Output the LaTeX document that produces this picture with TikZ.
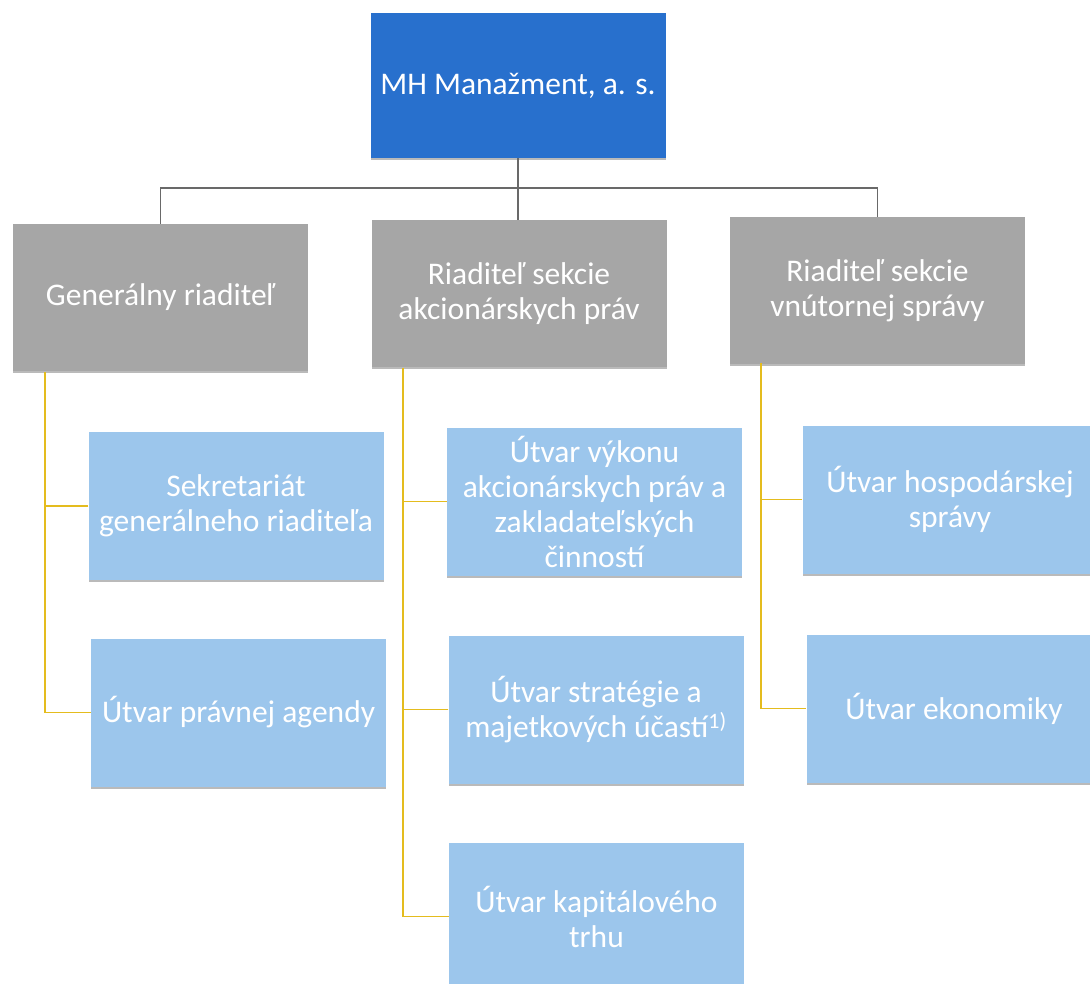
\documentclass[tikz,border=0pt]{standalone}
\usepackage{fontspec}
\setmainfont{Carlito}
\usetikzlibrary{shadows}
\definecolor{topblue}{RGB}{40,112,205}
\definecolor{boxgray}{RGB}{166,166,166}
\definecolor{lightblue}{RGB}{156,198,236}
\definecolor{linegray}{RGB}{105,105,105}
\definecolor{lineyellow}{RGB}{228,188,30}
\tikzset{
  box/.style={rectangle, inner sep=2pt, align=center, text=white,
    font=\fontsize{31.5}{35}\selectfont,
    drop shadow={shadow xshift=0pt, shadow yshift=-2pt, opacity=0.45, fill=black!60}},
  topbox/.style={box, fill=topblue, minimum width=295pt, minimum height=145pt},
  graybox/.style={box, fill=boxgray, minimum width=295pt, minimum height=147pt},
  bluebox/.style={box, fill=lightblue, minimum width=295pt, minimum height=148pt},
  gline/.style={draw=linegray, line width=1.6pt},
  yline/.style={draw=lineyellow, line width=1.8pt},
}
\begin{document}
\begin{tikzpicture}[x=1pt, y=-1pt]
\useasboundingbox (0,0) rectangle (1090,984);
\fill[white] (0,0) rectangle (1090,984);
\begin{scope}
\clip (0,0) rectangle (1090,984);
% top
\node[topbox] (top) at (518,85.5) {MH Manažment, a. s.};
% level 2
\node[graybox] (g1) at (160.5,297.5) {Generálny riaditeľ};
\node[graybox] (g2) at (519,294) {Riaditeľ sekcie\\akcionárskych práv};
\node[graybox] (g3) at (877.5,290.5) {Riaditeľ sekcie\\vnútornej správy};
% level 3
\node[bluebox] (b1a) at (236,506) {Sekretariát\\generálneho riaditeľa};
\node[bluebox] (b1b) at (238.5,712.5) {Útvar právnej agendy};
\node[bluebox] (b2a) at (594.5,501.5) {Útvar výkonu\\akcionárskych práv a\\zakladateľských\\činností};
\node[bluebox] (b2b) at (596,709.5) {Útvar stratégie a\\majetkových účastí\textsuperscript{1)}};
\node[bluebox] (b2c) at (596.5,916.5) {Útvar kapitálového\\trhu};
\node[bluebox] (b3a) at (950,499.5) {Útvar hospodárskej\\správy};
\node[bluebox] (b3b) at (954,708.5) {Útvar ekonomiky};
\end{scope}
% gray connectors
\coordinate (hb) at (518,188);
\draw[gline] (top.south) -- (hb);
\draw[gline] (hb) -| (g1.north);
\draw[gline] (hb) -| (g3.north);
\draw[gline] (hb) -- (hb |- g2.north);
% yellow connectors
\coordinate (y1) at (45,372);
\coordinate (y2) at (403,368);
\coordinate (y3) at (761,363);
\draw[yline] (y1) |- (b1b.west);
\draw[yline] (b1a.west) -- (b1a.west -| y1);
\draw[yline] (y2) |- (b2c.west);
\draw[yline] (b2a.west) -- (b2a.west -| y2);
\draw[yline] (b2b.west) -- (b2b.west -| y2);
\draw[yline] (y3) |- (b3b.west);
\draw[yline] (b3a.west) -- (b3a.west -| y3);
\end{tikzpicture}
\end{document}
